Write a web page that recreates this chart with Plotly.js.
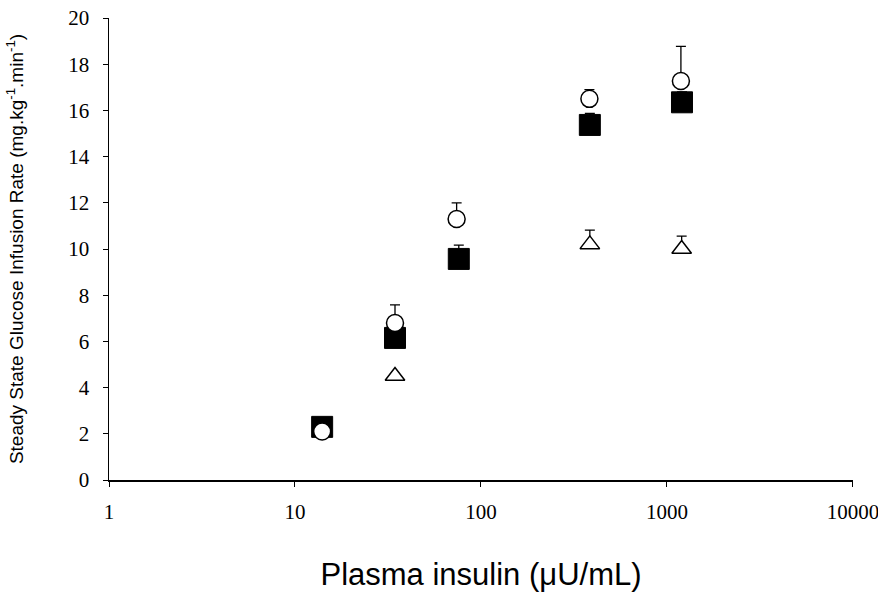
<!DOCTYPE html>
<html>
<head>
<meta charset="utf-8">
<script src="https://cdn.plot.ly/plotly-3.0.1.min.js"></script>
<style>html,body{margin:0;padding:0;background:#fff;}#chart{width:878px;height:594px;}</style>
</head>
<body>
<div id="chart"></div>
<script>
// Data
const squareX = [14, 34.5, 76, 385, 1205];
const squareY = [2.3, 6.15, 9.57, 15.37, 16.35];
const squareErr = [0.2, 0.5, 0.6, 0.5, 0.45];

const circleX = [14, 34.5, 74, 383, 1189];
const circleY = [2.1, 6.8, 11.3, 16.5, 17.27];
const circleErr = [0, 0.78, 0.7, 0.4, 1.5];

const triangleX = [34.5, 385, 1200];
const triangleY = [4.5, 10.2, 10.0];
const triangleErr = [0, 0.62, 0.56];

const xTickVals = [1, 10, 100, 1000, 10000];
const xTickText = ['1', '10', '100', '1000', '10000'];
const yTickVals = [0, 2, 4, 6, 8, 10, 12, 14, 16, 18, 20];

const traces = [
  {
    x: squareX, y: squareY, type: 'scatter', mode: 'markers',
    marker: {symbol: 'square', size: 21, color: '#000', line: {color: '#000', width: 1}},
    error_y: {type: 'data', symmetric: false, array: squareErr, arrayminus: squareX.map(() => 0), color: '#000', thickness: 1.3, width: 5},
    showlegend: false, hoverinfo: 'skip'
  },
  {
    x: triangleX, y: triangleY, type: 'scatter', mode: 'markers',
    marker: {symbol: 'triangle-up', size: 17, color: '#fff', line: {color: '#000', width: 1.5}},
    error_y: {type: 'data', symmetric: false, array: triangleErr, arrayminus: triangleX.map(() => 0), color: '#000', thickness: 1.3, width: 5},
    showlegend: false, hoverinfo: 'skip'
  },
  {
    x: circleX, y: circleY, type: 'scatter', mode: 'markers',
    marker: {symbol: 'circle', size: 17, color: '#fff', line: {color: '#000', width: 1.5}},
    error_y: {type: 'data', symmetric: false, array: circleErr, arrayminus: circleX.map(() => 0), color: '#000', thickness: 1.3, width: 5},
    showlegend: false, hoverinfo: 'skip'
  }
];

const layout = {
  width: 878, height: 594,
  margin: {l: 109, r: 25, t: 18, b: 114},
  paper_bgcolor: '#fff', plot_bgcolor: '#fff',
  showlegend: false,
  xaxis: {
    type: 'log', range: [0, 4.0005],
    tickvals: xTickVals, ticktext: xTickText,
    ticklabeloverflow: 'allow',
    ticklabelstandoff: 7,
    ticks: 'outside', ticklen: 5, tickwidth: 1, tickcolor: '#000',
    showline: true, linecolor: '#000', linewidth: 1.5,
    showgrid: false, zeroline: false,
    tickfont: {family: 'Liberation Serif, Times New Roman, serif', size: 21, color: '#000'},
    title: {text: 'Plasma insulin (μU/mL)', font: {family: 'Liberation Sans, Arial, sans-serif', size: 31, color: '#000'}, standoff: 40}
  },
  yaxis: {
    range: [0, 20],
    tickvals: yTickVals,
    ticklabelstandoff: 9,
    ticks: 'outside', ticklen: 5, tickwidth: 1, tickcolor: '#000',
    showline: true, linecolor: '#000', linewidth: 1.5,
    showgrid: false, zeroline: false,
    tickfont: {family: 'Liberation Serif, Times New Roman, serif', size: 21, color: '#000'},
    title: {text: 'Steady State Glucose Infusion Rate (mg.kg<sup>-1</sup>.min<sup>-1</sup>)', font: {family: 'Liberation Sans, Arial, sans-serif', size: 19, color: '#000'}, standoff: 39}
  }
};

Plotly.newPlot('chart', traces, layout, {displayModeBar: false, staticPlot: true});
</script>
</body>
</html>
